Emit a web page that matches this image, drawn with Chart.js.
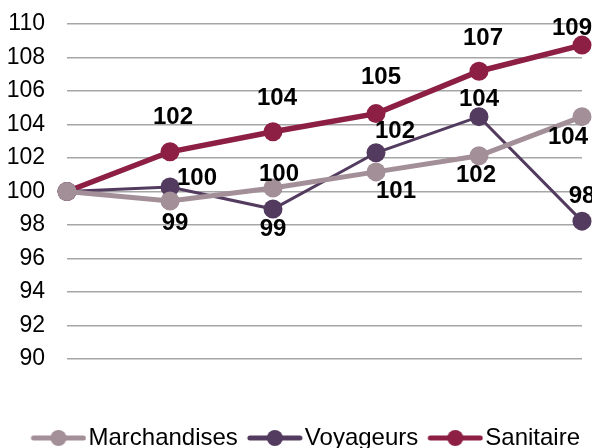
<!DOCTYPE html>
<html><head><meta charset="utf-8">
<script src="https://cdn.jsdelivr.net/npm/chart.js@4/dist/chart.umd.min.js"></script>
<style>html,body{margin:0;padding:0;background:#fff}#wrap{width:592px;height:448px}</style>
</head><body><div id="wrap"><canvas id="c" width="592" height="448"></canvas></div>
<script>
const categories = ["1", "2", "3", "4", "5", "6"];
const marchandises = [100, 99.43, 100.21, 101.17, 102.13, 104.47];
const voyageurs = [100, 100.27, 98.95, 102.31, 104.47, 98.23];
const sanitaire = [100, 102.37, 103.57, 104.65, 107.18, 108.74];
const yTicks = [90, 92, 94, 96, 98, 100, 102, 104, 106, 108, 110];

const FONT = "'Liberation Sans', Arial, sans-serif";
const colors = { m: '#A38F98', v: '#523B5E', s: '#8C1F43' };

// legend icon: line + marker, drawn offset inside a wider canvas
function legendIcon(color) {
  const c = document.createElement('canvas');
  c.width = 73; c.height = 20;
  const x = c.getContext('2d');
  const a = 17;
  x.strokeStyle = color; x.lineWidth = 5; x.lineCap = 'round';
  x.beginPath(); x.moveTo(a + 3, 10); x.lineTo(a + 53, 10); x.stroke();
  x.fillStyle = color; x.beginPath(); x.arc(a + 28, 10, 8, 0, Math.PI * 2); x.fill();
  return c;
}

// label offsets (dx, dy) per point, first point unlabeled
const labelOffsets = [
  [null, [5, 22], [6, -14], [20, 19], [-3, 20], [-14, 21]],
  [null, [27, -9], [0, 20], [19, -21], [0, -17], [0, -25]],
  [null, [3, -34], [4, -33], [5, -36], [4, -33], [-10, -17]]
];

const labelPlugin = {
  id: 'lbls',
  afterDatasetsDraw(chart) {
    const ctx = chart.ctx;
    ctx.save();
    ctx.font = "bold 24px " + FONT;
    ctx.fillStyle = '#000';
    ctx.textAlign = 'center';
    ctx.textBaseline = 'middle';
    chart.data.datasets.forEach((ds, di) => {
      const meta = chart.getDatasetMeta(di);
      meta.data.forEach((pt, i) => {
        const off = labelOffsets[di][i];
        if (!off) return;
        ctx.fillText(Math.round(ds.data[i]).toString(), pt.x + off[0], pt.y + off[1]);
      });
    });
    ctx.restore();
  }
};

const mkDs = (label, data, color, lw) => ({
  label, data,
  borderColor: color, backgroundColor: color,
  borderWidth: lw, pointRadius: 9.5, pointHoverRadius: 9.5,
  pointBackgroundColor: color, pointBorderColor: color, pointBorderWidth: 0,
  pointStyle: 'circle', tension: 0, clip: false,
  legendIcon: legendIcon(color)
});

const dsM = mkDs('Marchandises', marchandises, colors.m, 5);
const dsV = mkDs('Voyageurs', voyageurs, colors.v, 3);
const dsS = mkDs('Sanitaire', sanitaire, colors.s, 5.5);

new Chart(document.getElementById('c'), {
  type: 'line',
  data: { labels: categories, datasets: [dsM, dsV, dsS] },
  plugins: [labelPlugin],
  options: {
    responsive: false,
    animation: false,
    devicePixelRatio: 1,
    layout: { padding: { top: 24, right: 10, left: 0, bottom: -12 } },
    plugins: {
      tooltip: { enabled: false },
      legend: {
        position: 'bottom',
        align: 'end',
        labels: {
          usePointStyle: true,
          pointStyleWidth: 53,
          font: { family: FONT, size: 24 },
          color: '#000',
          padding: 2,
          generateLabels(chart) {
            return chart.data.datasets.map((d, i) => ({
              text: d.label, pointStyle: d.legendIcon, fillStyle: d.borderColor,
              strokeStyle: d.borderColor, lineWidth: 0, hidden: false, datasetIndex: i, fontColor: '#000'
            }));
          }
        }
      }
    },
    scales: {
      x: {
        display: true, offset: false,
        grid: { display: false }, border: { display: false },
        ticks: { display: false },
        afterFit(scale) { scale.height = 65; }
      },
      y: {
        min: 90, max: 110,
        afterBuildTicks(scale) { scale.ticks = yTicks.map(v => ({ value: v })); },
        afterFit(scale) { scale.width = 67; },
        border: { display: false },
        grid: { color: '#A6A6A6', lineWidth: 1.5, drawTicks: true, tickLength: 20, tickColor: 'rgba(0,0,0,0)' },
        ticks: { font: { family: FONT, size: 23 }, color: '#000', padding: 2 }
      }
    }
  }
});
</script></body></html>
